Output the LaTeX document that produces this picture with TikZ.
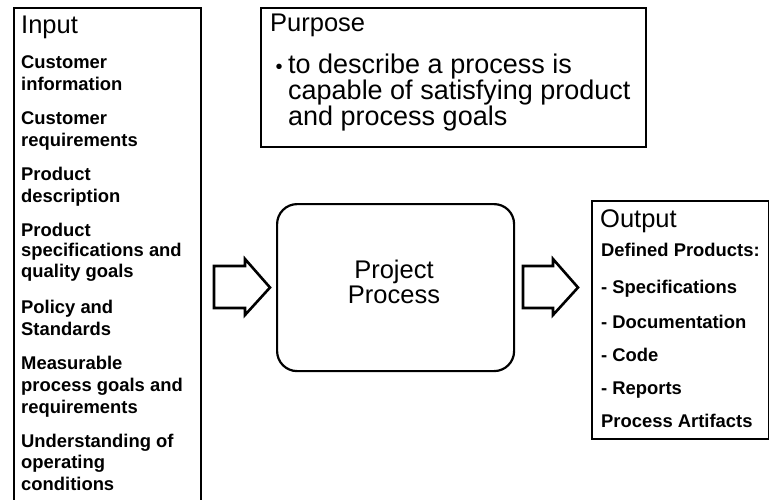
\documentclass[tikz,border=0pt]{standalone}
\usepackage{fontspec}
\setmainfont{Liberation Sans}
\begin{document}
\begin{tikzpicture}[x=1pt,y=-1pt,
  frame/.style={draw=black,line width=2.2pt,rectangle,inner sep=0pt,anchor=north west},
  procbox/.style={frame,rounded corners=20pt},
  heading/.style={anchor=base west,inner sep=0pt,font=\fontsize{25.5}{27}\selectfont},
  entry/.style={anchor=base west,inner sep=0pt,font=\fontsize{18.4}{21}\selectfont\bfseries},
  bodytext/.style={anchor=base west,inner sep=0pt,font=\fontsize{27}{26}\selectfont},
  centred/.style={anchor=base,inner sep=0pt,font=\fontsize{25.5}{27}\selectfont},
  blockarrow/.style={draw=black,line width=2.6pt,line join=miter,fill=white}]
\useasboundingbox (0,0) rectangle (769,499);
\clip (0,0) rectangle (769,499);
\fill[white] (0,0) rectangle (769,499);

% Input column (runs off the bottom edge)
\node[frame,minimum width=187pt,minimum height=520pt] (inbox) at (13,7) {};
\node[heading] (intitle) at (21,33) {Input};
\foreach \yy/\txt [count=\i] in {
  68/Customer, 90.5/information,
  124/Customer, 146.5/requirements,
  180/Product, 202.5/description,
  236/Product, 256.5/specifications and, 277/quality goals,
  313/Policy and, 335/Standards,
  369/Measurable, 391/process goals and, 413/requirements,
  447/Understanding of, 468.5/operating, 490/conditions}
  \node[entry] (in-\i) at (21,\yy) {\txt};

% Purpose panel
\node[frame,minimum width=385pt,minimum height=139pt] (purpose) at (260,7) {};
\node[heading] (ptitle) at (270,31) {Purpose};
\node[anchor=base,inner sep=0pt,font=\fontsize{20}{20}\selectfont] (bullet) at (279,73) {\textbullet};
\node[bodytext] (pline1) at (288,73) {to describe a process is};
\node[bodytext] (pline2) at (288,99) {capable of satisfying product};
\node[bodytext] (pline3) at (288,125) {and process goals};

% Central process
\node[procbox,minimum width=237pt,minimum height=167pt] (proc) at (276,203) {};
\node[centred] (proc1) at (394,278) {Project};
\node[centred] (proc2) at (394,303) {Process};

% Output panel
\node[frame,minimum width=176.5pt,minimum height=238pt] (outbox) at (591,200) {};
\node[heading] (otitle) at (600,227) {Output};
\foreach \yy/\txt [count=\i] in {
  256/Defined Products:, 293/- Specifications, 328/- Documentation,
  361/- Code, 394/- Reports, 427/Process Artifacts}
  \node[entry] (out-\i) at (601,\yy) {\txt};

% Block arrows into and out of the process
\draw[blockarrow] (214,266) -- (245,266) -- (245,259) -- (270,287.5)
  -- (245,315) -- (245,308) -- (214,308) -- cycle;
\draw[blockarrow] (523,266) -- (553,266) -- (553,259) -- (578,287.5)
  -- (553,315) -- (553,308) -- (523,308) -- cycle;
\end{tikzpicture}
\end{document}
